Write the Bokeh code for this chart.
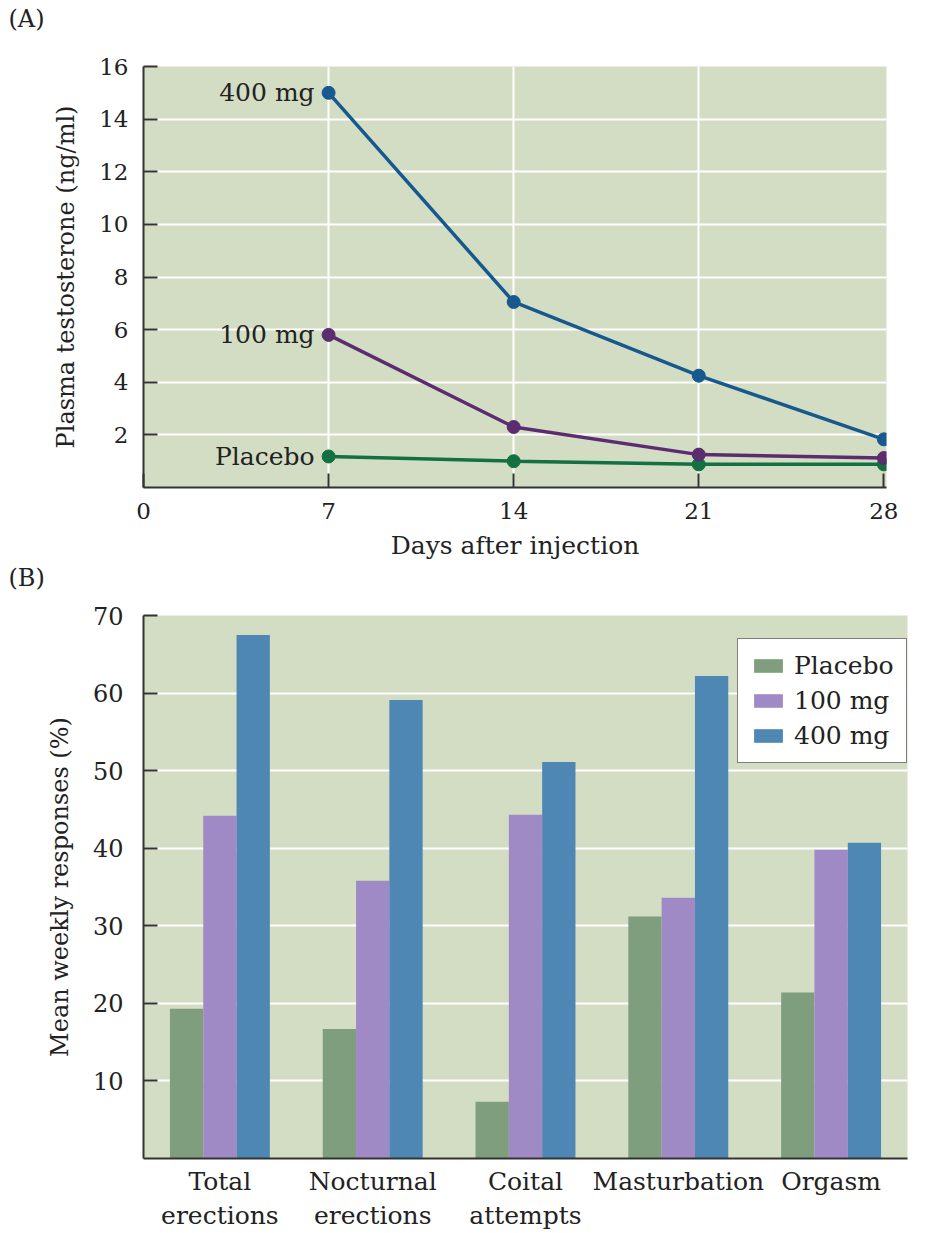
from bokeh.plotting import figure
from bokeh.models import FixedTicker, Range1d, FactorRange, Legend, LegendItem, Title
from bokeh.transform import dodge
from bokeh.core.properties import value
from bokeh.embed import file_html
from bokeh.resources import INLINE

# ---------------- data ----------------
days = [7, 14, 21, 28]
t_400 = [15.0, 7.05, 4.25, 1.83]
t_100 = [5.8, 2.3, 1.25, 1.12]
t_placebo = [1.18, 1.0, 0.88, 0.88]
line_names = ["400 mg", "100 mg", "Placebo"]

x_ticks_a = [0, 7, 14, 21, 28]
y_ticks_a = [2, 4, 6, 8, 10, 12, 14, 16]

cats = ["Total\nerections", "Nocturnal\nerections", "Coital\nattempts", "Masturbation", "Orgasm"]
b_placebo = [19.3, 16.7, 7.3, 31.2, 21.4]
b_100 = [44.2, 35.8, 44.3, 33.6, 39.8]
b_400 = [67.5, 59.1, 51.1, 62.2, 40.7]
bar_names = ["Placebo", "100 mg", "400 mg"]
y_ticks_b = [10, 20, 30, 40, 50, 60, 70]

# ---------------- style ----------------
FONT = "DejaVu Serif"
BG = "#d3ddc3"
TXT = "#222222"
C400 = "#17598f"
C100 = "#5b2c6f"
CPL = "#137040"
BPL = "#7e9e7e"
B100 = "#a08ac6"
B400 = "#4e87b4"
W = 940


def style_title(t):
    t.text_font = FONT
    t.text_font_size = "24px"
    t.text_font_style = "normal"
    t.text_color = TXT
    t.align = "left"
    t.vertical_align = "top"
    t.offset = -135


def style_axes(p, tick_size):
    for ax in (p.xaxis[0], p.yaxis[0]):
        ax.axis_line_color = "#333333"
        ax.axis_line_width = 2
        ax.major_tick_line_color = "#333333"
        ax.major_tick_line_width = 2
        ax.major_tick_in = 14
        ax.major_tick_out = 0
        ax.minor_tick_line_color = None
        ax.major_label_text_font = FONT
        ax.major_label_text_font_size = tick_size
        ax.major_label_text_color = TXT
        ax.axis_label_text_font = FONT
        ax.axis_label_text_font_size = "24px"
        ax.axis_label_text_font_style = "normal"
        ax.axis_label_text_color = TXT
    p.outline_line_color = None
    p.background_fill_color = BG
    p.border_fill_color = "white"
    style_title(p.title)


# ---------------- panel A ----------------
pa = figure(width=W, height=600, output_backend="svg", toolbar_location=None,
            x_range=Range1d(0, 28.1), y_range=Range1d(0, 16),
            min_border_left=143, min_border_right=W - 886, min_border_top=65, min_border_bottom=113,
            title="(A)\n")
style_axes(pa, "23px")
pa.title.standoff = 8
pa.xaxis.ticker = FixedTicker(ticks=x_ticks_a)
pa.yaxis.ticker = FixedTicker(ticks=y_ticks_a)
pa.xgrid.ticker = FixedTicker(ticks=[t for t in x_ticks_a if 0 < t < 28])
pa.ygrid.ticker = FixedTicker(ticks=[t for t in y_ticks_a if t < 16])
for g in (pa.xgrid[0], pa.ygrid[0]):
    g.grid_line_color = "white"
    g.grid_line_width = 2
pa.xaxis.axis_label = "Days after injection"
pa.yaxis.axis_label = "Plasma testosterone (ng/ml)"
pa.xaxis.axis_label_text_font_size = "25px"
pa.xaxis.major_label_standoff = 15
pa.xaxis.axis_label_standoff = 9
pa.yaxis.major_label_standoff = 15
pa.yaxis.axis_label_standoff = 16

# panel (B) tag sits under panel A's axis title
tag_b = Title(text="(B)", standoff=2)
style_title(tag_b)
pa.add_layout(tag_b, "below")

for ys, col in ((t_placebo, CPL), (t_100, C100), (t_400, C400)):
    pa.line(days, ys, line_color=col, line_width=3.5)
    pa.scatter(days, ys, size=13, fill_color=col, line_color=col)

pa.text(x=[days[0]] * 3, y=[t_400[0], t_100[0], t_placebo[0]], text=line_names,
        x_offset=-14, text_align="right", text_baseline="middle",
        text_font=value(FONT), text_font_size="25px", text_color=TXT)

# ---------------- panel B ----------------
pb = figure(width=W, height=633, output_backend="svg", toolbar_location=None,
            x_range=FactorRange(factors=cats, range_padding=0), y_range=Range1d(0, 70),
            min_border_left=143, min_border_right=W - 907, min_border_top=15, min_border_bottom=74)
style_axes(pb, "24px")
pb.yaxis.ticker = FixedTicker(ticks=y_ticks_b)
pb.xgrid.grid_line_color = None
pb.ygrid.ticker = FixedTicker(ticks=[t for t in y_ticks_b if t < 70])
pb.ygrid.grid_line_color = "white"
pb.ygrid.grid_line_width = 2
pb.yaxis.axis_label = "Mean weekly responses (%)"
pb.yaxis.major_label_standoff = 20
pb.yaxis.axis_label_standoff = 16
pb.xaxis.major_tick_line_color = None
pb.xaxis.major_label_standoff = 8
pb.xaxis.major_label_text_font_size = "25px"

bw = 0.218
src = dict(cat=cats, pl=b_placebo, m100=b_100, m400=b_400)
r_pl = pb.vbar(x=dodge("cat", -bw, range=pb.x_range), top="pl", width=bw, source=src,
               fill_color=BPL, line_color=None)
r_100 = pb.vbar(x=dodge("cat", 0, range=pb.x_range), top="m100", width=bw, source=src,
                fill_color=B100, line_color=None)
r_400 = pb.vbar(x=dodge("cat", bw, range=pb.x_range), top="m400", width=bw, source=src,
                fill_color=B400, line_color=None)

leg = Legend(items=[LegendItem(label=bar_names[0], renderers=[r_pl]),
                    LegendItem(label=bar_names[1], renderers=[r_100]),
                    LegendItem(label=bar_names[2], renderers=[r_400])],
             location=(594, 395))
leg.label_text_font = FONT
leg.label_text_font_size = "25px"
leg.label_text_color = TXT
leg.glyph_width = 36
leg.glyph_height = 17
leg.label_standoff = 8
leg.spacing = 6
leg.padding = 12
leg.border_line_color = "black"
leg.border_line_width = 1.5
leg.background_fill_color = "white"
leg.background_fill_alpha = 1
pb.add_layout(leg)

open("out.html", "w").write(file_html([pa, pb], INLINE))
